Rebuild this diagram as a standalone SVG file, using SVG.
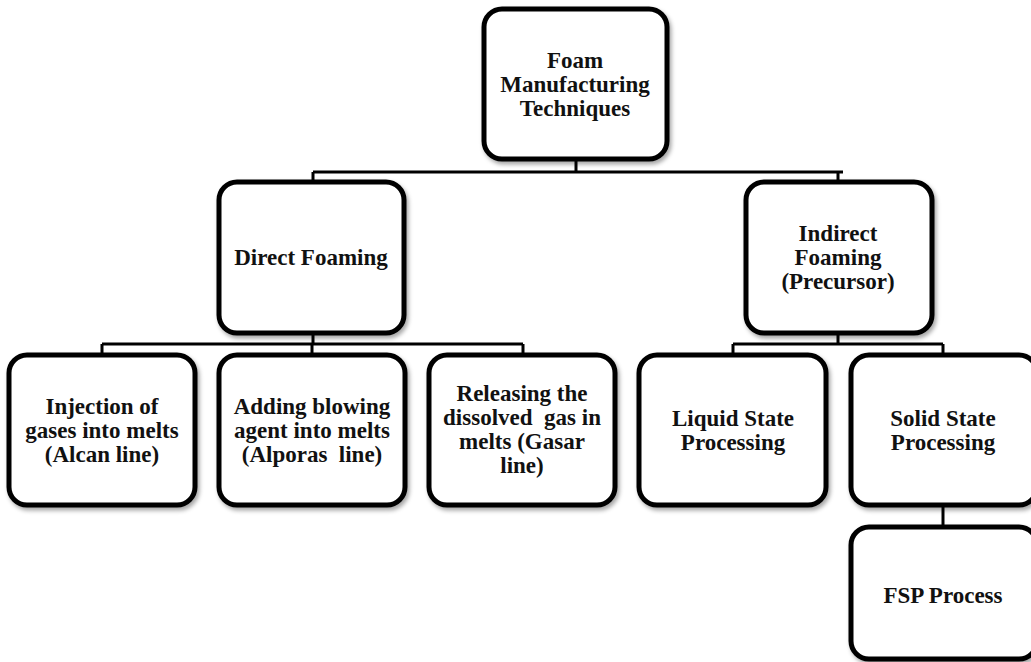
<svg xmlns="http://www.w3.org/2000/svg" width="1031" height="662" viewBox="0 0 1031 662">
<style>
.box{fill:#fff;stroke:#000;stroke-width:5;filter:url(#sh)}
.t{font-family:"Liberation Serif","Times New Roman",serif;font-weight:bold;font-size:23px;fill:#111;text-anchor:middle}
.c{stroke:#000;stroke-width:3;fill:none}
</style>
<defs>
<filter id="sh" x="-10%" y="-10%" width="125%" height="125%">
<feDropShadow dx="2" dy="3" stdDeviation="2" flood-color="#000" flood-opacity="0.35"/>
</filter>
</defs>
<rect width="1031" height="662" fill="#fff"/>
<g id="connectors">
<path class="c" d="M576 159V172M313 172H843M313 172V182M838 172V182"/>
<path class="c" d="M313 333V344M102 344H523M102 344V355M312 344V355M523 344V355"/>
<path class="c" d="M838 333V344M733 344H943M733 344V355M943 344V355"/>
<path class="c" d="M943 505V527"/>
</g>
<g id="n-root"><rect class="box" x="484" y="9" width="183" height="150" rx="18"/>
<text class="t" x="575" y="68">Foam</text><text class="t" x="575" y="92">Manufacturing</text><text class="t" x="575" y="116">Techniques</text></g>
<g id="n-direct"><rect class="box" x="219" y="182" width="185" height="151" rx="18"/>
<text class="t" x="311" y="265">Direct Foaming</text></g>
<g id="n-indirect"><rect class="box" x="746" y="182" width="186" height="151" rx="18"/>
<text class="t" x="838" y="241">Indirect</text><text class="t" x="838" y="265">Foaming</text><text class="t" x="838" y="289">(Precursor)</text></g>
<g id="n-injection"><rect class="box" x="9" y="355" width="186" height="150" rx="18"/>
<text class="t" x="102" y="414">Injection of</text><text class="t" x="102" y="438">gases into melts</text><text class="t" x="102" y="462">(Alcan line)</text></g>
<g id="n-adding"><rect class="box" x="219" y="355" width="186" height="150" rx="18"/>
<text class="t" x="312" y="414">Adding blowing</text><text class="t" x="312" y="438">agent into melts</text><text class="t" x="312" y="462" xml:space="preserve">(Alporas  line)</text></g>
<g id="n-releasing"><rect class="box" x="429" y="355" width="186" height="150" rx="18"/>
<text class="t" x="522" y="401">Releasing the</text><text class="t" x="522" y="425" xml:space="preserve">dissolved  gas in</text><text class="t" x="522" y="449">melts (Gasar</text><text class="t" x="522" y="473">line)</text></g>
<g id="n-liquid"><rect class="box" x="639" y="355" width="187" height="150" rx="18"/>
<text class="t" x="733" y="426">Liquid State</text><text class="t" x="733" y="450">Processing</text></g>
<g id="n-solid"><rect class="box" x="851" y="355" width="186" height="150" rx="18"/>
<text class="t" x="943" y="426">Solid State</text><text class="t" x="943" y="450">Processing</text></g>
<g id="n-fsp"><rect class="box" x="851" y="527" width="186" height="132" rx="18"/>
<text class="t" x="943" y="603">FSP Process</text></g>
</svg>
